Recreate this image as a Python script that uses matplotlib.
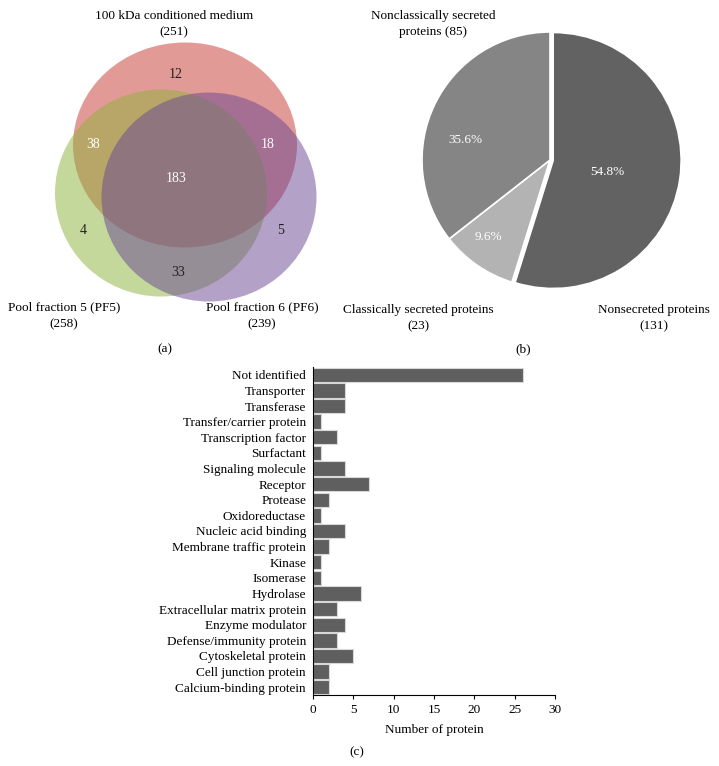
import numpy as np
import matplotlib.pyplot as plt
from matplotlib.patches import Ellipse

plt.rcParams['font.family'] = ['Liberation Serif', 'DejaVu Serif']

# (a) Venn diagram
venn_sets = ['100 kDa conditioned medium\n(251)', 'Pool fraction 5 (PF5)\n(258)', 'Pool fraction 6 (PF6)\n(239)']
venn_counts = {'A': 12, 'AB': 38, 'AC': 18, 'ABC': 183, 'B': 4, 'C': 5, 'BC': 33}

# (b) pie
pie_labels = ['Nonsecreted proteins\n(131)', 'Classically secreted proteins\n(23)', 'Nonclassically secreted\nproteins (85)']
pie_values = [131, 23, 85]
pie_colors = ['#626262', '#b3b3b3', '#858585']

# (c) bar
categories = ['Not identified', 'Transporter', 'Transferase', 'Transfer/carrier protein',
              'Transcription factor', 'Surfactant', 'Signaling molecule', 'Receptor',
              'Protease', 'Oxidoreductase', 'Nucleic acid binding', 'Membrane traffic protein',
              'Kinase', 'Isomerase', 'Hydrolase', 'Extracellular matrix protein',
              'Enzyme modulator', 'Defense/immunity protein', 'Cytoskeletal protein',
              'Cell junction protein', 'Calcium-binding protein']
counts = [26, 4, 4, 1, 3, 1, 4, 7, 2, 1, 4, 2, 1, 1, 6, 3, 4, 3, 5, 2, 2]

W, H = 719, 766
fs = 9.5
fig = plt.figure(figsize=(W / 100, H / 100), dpi=100)

# overlay axes in pixel coordinates for venn + labels
ov = fig.add_axes([0, 0, 1, 1])
ov.set_xlim(0, W)
ov.set_ylim(H, 0)
ov.axis('off')

# venn ellipses
ov.add_patch(Ellipse((185, 145), 224, 205, facecolor=(199/255, 55/255, 49/255), alpha=0.5, lw=0))
ov.add_patch(Ellipse((161, 193), 212, 207, facecolor=(141/255, 179/255, 57/255), alpha=0.5, lw=0))
ov.add_patch(Ellipse((209, 197), 215, 209, facecolor=(105/255, 69/255, 147/255), alpha=0.5, lw=0))

venn_pos = {'A': (176, 75), 'AB': (93, 144), 'AC': (268, 144), 'ABC': (176, 178),
            'B': (83, 230), 'C': (281, 231), 'BC': (178, 272)}
white_regions = ['AB', 'AC', 'ABC']
for k, v in venn_counts.items():
    x, y = venn_pos[k]
    ov.text(x, y, str(v), ha='center', va='center', fontsize=10,
            color='white' if k in white_regions else '#222222')

ov.text(174, 24, venn_sets[0], ha='center', va='center', fontsize=fs, linespacing=1.5)
ov.text(64, 316, venn_sets[1], ha='center', va='center', fontsize=fs, linespacing=1.5)
ov.text(262, 316, venn_sets[2], ha='center', va='center', fontsize=fs, linespacing=1.5)
ov.text(165, 349, '(a)', ha='center', va='center', fontsize=fs)

# pie labels
ov.text(433, 24, pie_labels[2], ha='center', va='center', fontsize=fs, linespacing=1.5)
ov.text(418, 318, pie_labels[1], ha='center', va='center', fontsize=fs, linespacing=1.5)
ov.text(654, 318, pie_labels[0], ha='center', va='center', fontsize=fs, linespacing=1.5)
ov.text(523, 349, '(b)', ha='center', va='center', fontsize=fs)

# (b) pie chart
cx, cy, r = 550, 160, 128
pa = fig.add_axes([(cx - 1.1 * r) / W, 1 - (cy + 1.1 * r) / H, 2.2 * r / W, 2.2 * r / H])
wedges, _, pcts = pa.pie(pie_values, colors=pie_colors, startangle=90, counterclock=False,
                         explode=[0.025, 0, 0], autopct='%1.1f%%', pctdistance=0.6,
                         wedgeprops=dict(edgecolor='white', linewidth=1.2),
                         textprops=dict(color='white', fontsize=fs))
pa.set_xlim(-1.1, 1.1)
pa.set_ylim(-1.1, 1.1)
pa.set_aspect('equal')
pct_xy = [(0.45, -0.09), (-0.48, -0.6), (-0.66, 0.16)]
for t, xy in zip(pcts, pct_xy):
    t.set_position(xy)

# (c) bar chart
ba = fig.add_axes([313 / W, 1 - 695 / H, 242 / W, 328 / H])
ypos = np.arange(len(categories))[::-1]
ba.barh(ypos, counts, height=0.92, color='#5f5f5f', edgecolor='#d8d8d8', linewidth=0.8)
ba.set_yticks(ypos)
ba.set_yticklabels(categories, fontsize=fs)
ba.set_ylim(-0.5, len(categories) - 0.5)
ba.set_xlim(0, 30)
ba.set_xticks(range(0, 31, 5))
ba.tick_params(axis='y', length=0, pad=5)
ba.tick_params(axis='x', length=3, labelsize=fs, direction='out')
ba.spines['top'].set_visible(False)
ba.spines['right'].set_visible(False)
ba.set_xlabel('Number of protein', fontsize=fs, labelpad=6)
ov.text(357, 752, '(c)', ha='center', va='center', fontsize=fs)

fig.savefig('out.png', dpi=100)
